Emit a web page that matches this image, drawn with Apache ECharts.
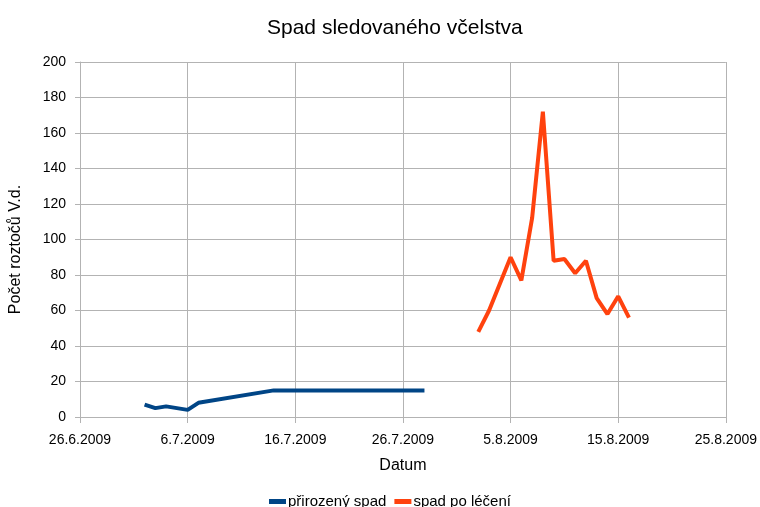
<!DOCTYPE html>
<html>
<head>
<meta charset="utf-8">
<script src="https://cdn.jsdelivr.net/npm/echarts@6/dist/echarts.min.js"></script>
<style>
  html, body { margin: 0; padding: 0; background: #fff; }
  #chart { width: 760px; height: 507px; }
</style>
</head>
<body>
<div id="chart"></div>
<script>
// dates are d.m.yyyy as printed on the axis
const naturalDates = ['2.7.2009', '3.7.2009', '4.7.2009', '6.7.2009', '7.7.2009', '14.7.2009', '28.7.2009'];
const naturalValues = [7, 5, 6, 4, 8, 15, 15];

const treatedDates = ['2.8.2009', '3.8.2009', '5.8.2009', '6.8.2009', '7.8.2009', '8.8.2009', '9.8.2009',
  '10.8.2009', '11.8.2009', '12.8.2009', '13.8.2009', '14.8.2009', '15.8.2009', '16.8.2009'];
const treatedValues = [48, 60, 90, 77, 112, 172, 88, 89, 81, 88, 67, 58, 68, 56];

const startDate = '26.6.2009';
const seriesNames = ['přirozený spad', 'spad po léčení'];

const DAY = 86400000;
const toTime = s => {
  const [d, m, y] = s.split('.').map(Number);
  return Date.UTC(y, m - 1, d);
};
const origin = toTime(startDate);
// x axis runs in days since the start date
const toDay = s => Math.round((toTime(s) - origin) / DAY);
const dayLabel = v => {
  const d = new Date(origin + v * DAY);
  return d.getUTCDate() + '.' + (d.getUTCMonth() + 1) + '.' + d.getUTCFullYear();
};
const pairs = (dates, values) => dates.map((s, i) => [toDay(s), values[i]]);

const font = 'Liberation Sans, Arial, sans-serif';

const chart = echarts.init(document.getElementById('chart'));
chart.setOption({
  animation: false,
  textStyle: { fontFamily: font },
  title: {
    text: 'Spad sledovaného včelstva',
    left: 262,
    top: 13,
    textStyle: { fontFamily: font, fontSize: 21, fontWeight: 'normal', color: '#000' }
  },
  grid: { left: 79, right: 33, top: 62, bottom: 90, containLabel: false },
  legend: {
    top: 489,
    left: 264,
    icon: 'rect',
    itemWidth: 17,
    itemHeight: 5,
    itemGap: 8,
    textStyle: { fontFamily: font, fontSize: 15, color: '#000', padding: [0, 0, 0, -3] },
    data: seriesNames
  },
  xAxis: {
    type: 'value',
    min: 0,
    max: 60,
    interval: 10,
    name: 'Datum',
    nameLocation: 'middle',
    nameGap: 41,
    nameTextStyle: { fontFamily: font, fontSize: 16, color: '#000' },
    axisLine: { show: true, lineStyle: { color: '#b3b3b3' } },
    axisTick: { show: true, length: 6, lineStyle: { color: '#b3b3b3' } },
    axisLabel: { formatter: dayLabel, fontFamily: font, fontSize: 14, color: '#000', margin: 16 },
    splitLine: { show: true, lineStyle: { color: '#b3b3b3' } }
  },
  yAxis: {
    type: 'value',
    min: 0,
    max: 200,
    interval: 20,
    name: 'Počet roztočů V.d.',
    nameLocation: 'middle',
    nameGap: 56,
    nameTextStyle: { fontFamily: font, fontSize: 16, color: '#000', padding: [0, 20, 0, 0] },
    axisLine: { show: true, lineStyle: { color: '#b3b3b3' } },
    axisTick: { show: true, length: 5, lineStyle: { color: '#b3b3b3' } },
    axisLabel: { fontFamily: font, fontSize: 14, color: '#000', margin: 14 },
    splitLine: { show: true, lineStyle: { color: '#b3b3b3' } }
  },
  series: [
    {
      name: seriesNames[0],
      type: 'line',
      data: pairs(naturalDates, naturalValues),
      showSymbol: false,
      color: '#004586',
      lineStyle: { width: 4, color: '#004586' }
    },
    {
      name: seriesNames[1],
      type: 'line',
      data: pairs(treatedDates, treatedValues),
      showSymbol: false,
      color: '#ff420e',
      lineStyle: { width: 4, color: '#ff420e' }
    }
  ]
});
</script>
</body>
</html>
